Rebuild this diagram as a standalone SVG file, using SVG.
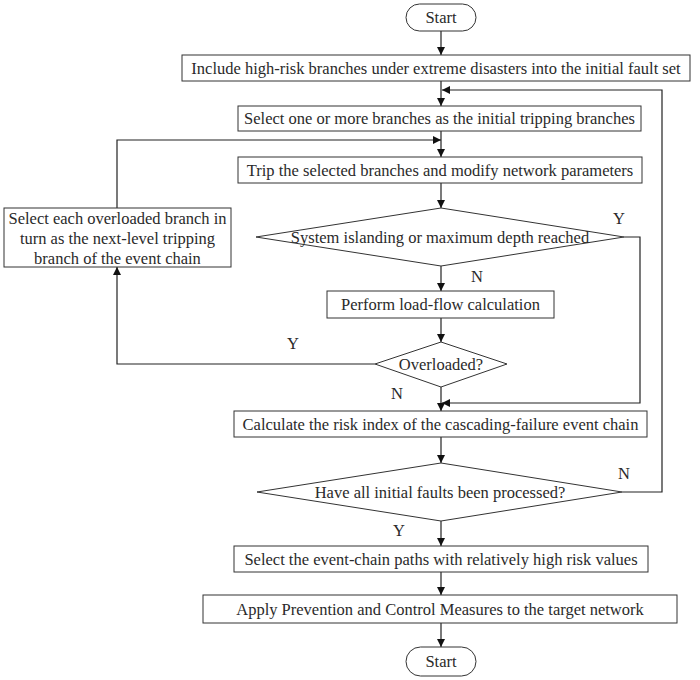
<svg xmlns="http://www.w3.org/2000/svg" width="700" height="680" viewBox="0 0 700 680">
<style>
.b{fill:#fff;stroke:#333;stroke-width:1}
.t{font-family:"Liberation Serif","Times New Roman",serif;font-size:16.5px;fill:#2a2a2a;text-anchor:middle;dominant-baseline:central}
.c{fill:none;stroke:#222;stroke-width:1.2}
</style>
<defs>
<marker id="a" viewBox="0 0 10 10" refX="10" refY="5" markerWidth="8" markerHeight="8" markerUnits="userSpaceOnUse" orient="auto">
<path d="M0,0 L10,5 L0,10 z" fill="#111"/>
</marker>
</defs>
<rect width="700" height="680" fill="#fff"/>
<g id="connectors">
<line class="c" x1="441" y1="31" x2="441" y2="55" marker-end="url(#a)"/>
<line class="c" x1="441" y1="81" x2="441" y2="106" marker-end="url(#a)"/>
<polyline class="c" points="622,492 662,492 662,90 442,90" marker-end="url(#a)"/>
<line class="c" x1="441" y1="131" x2="441" y2="157" marker-end="url(#a)"/>
<polyline class="c" points="117,208 117,140 441,140" marker-end="url(#a)"/>
<line class="c" x1="441" y1="183" x2="441" y2="208" marker-end="url(#a)"/>
<line class="c" x1="441" y1="266" x2="441" y2="291" marker-end="url(#a)"/>
<line class="c" x1="441" y1="318" x2="441" y2="342" marker-end="url(#a)"/>
<line class="c" x1="441" y1="387" x2="441" y2="411" marker-end="url(#a)"/>
<polyline class="c" points="624,237 640,237 640,403 442,403" marker-end="url(#a)"/>
<polyline class="c" points="375,364 117,364 117,267" marker-end="url(#a)"/>
<line class="c" x1="441" y1="437" x2="441" y2="463" marker-end="url(#a)"/>
<line class="c" x1="441" y1="521" x2="441" y2="546" marker-end="url(#a)"/>
<line class="c" x1="441" y1="572" x2="441" y2="595" marker-end="url(#a)"/>
<line class="c" x1="441" y1="623" x2="441" y2="647" marker-end="url(#a)"/>
<text class="t" x="619" y="218">Y</text>
<text class="t" x="477" y="276">N</text>
<text class="t" x="293" y="343">Y</text>
<text class="t" x="397" y="393">N</text>
<text class="t" x="624" y="473">N</text>
<text class="t" x="399" y="530">Y</text>
</g>
<g id="start">
<rect class="b" x="406" y="4" width="70" height="27" rx="13.5"/>
<text class="t" x="441" y="17.5">Start</text>
</g>
<g id="include">
<rect class="b" x="182" y="55" width="508" height="26"/>
<text class="t" x="436" y="68">Include high-risk branches under extreme disasters into the initial fault set</text>
</g>
<g id="select-initial">
<rect class="b" x="238" y="106" width="403" height="25"/>
<text class="t" x="439.5" y="118.5">Select one or more branches as the initial tripping branches</text>
</g>
<g id="trip">
<rect class="b" x="238" y="157" width="404" height="26"/>
<text class="t" x="440" y="170">Trip the selected branches and modify network parameters</text>
</g>
<g id="islanding">
<polygon class="b" points="441,208 624,237 441,266 256,237"/>
<text class="t" x="440" y="237">System islanding or maximum depth reached</text>
</g>
<g id="loadflow">
<rect class="b" x="327" y="291" width="227" height="27"/>
<text class="t" x="440.5" y="304.5">Perform load-flow calculation</text>
</g>
<g id="overloaded">
<polygon class="b" points="441,342 507,364 441,387 375,364"/>
<text class="t" x="441" y="364">Overloaded?</text>
</g>
<g id="select-overloaded">
<rect class="b" x="4" y="208" width="227" height="59"/>
<text class="t" x="117.5" y="218">Select each overloaded branch in</text>
<text class="t" x="117.5" y="238">turn as the next-level tripping</text>
<text class="t" x="117.5" y="258">branch of the event chain</text>
</g>
<g id="risk">
<rect class="b" x="234" y="411" width="413" height="26"/>
<text class="t" x="440.5" y="424">Calculate the risk index of the cascading-failure event chain</text>
</g>
<g id="processed">
<polygon class="b" points="441,463 622,492 441,521 257,492"/>
<text class="t" x="440" y="492">Have all initial faults been processed?</text>
</g>
<g id="select-paths">
<rect class="b" x="234" y="546" width="414" height="26"/>
<text class="t" x="441" y="559">Select the event-chain paths with relatively high risk values</text>
</g>
<g id="apply">
<rect class="b" x="203" y="595" width="474" height="28"/>
<text class="t" x="440" y="609">Apply Prevention and Control Measures to the target network</text>
</g>
<g id="end">
<rect class="b" x="406" y="647" width="70" height="29" rx="14.5"/>
<text class="t" x="441" y="661.5">Start</text>
</g>
</svg>
